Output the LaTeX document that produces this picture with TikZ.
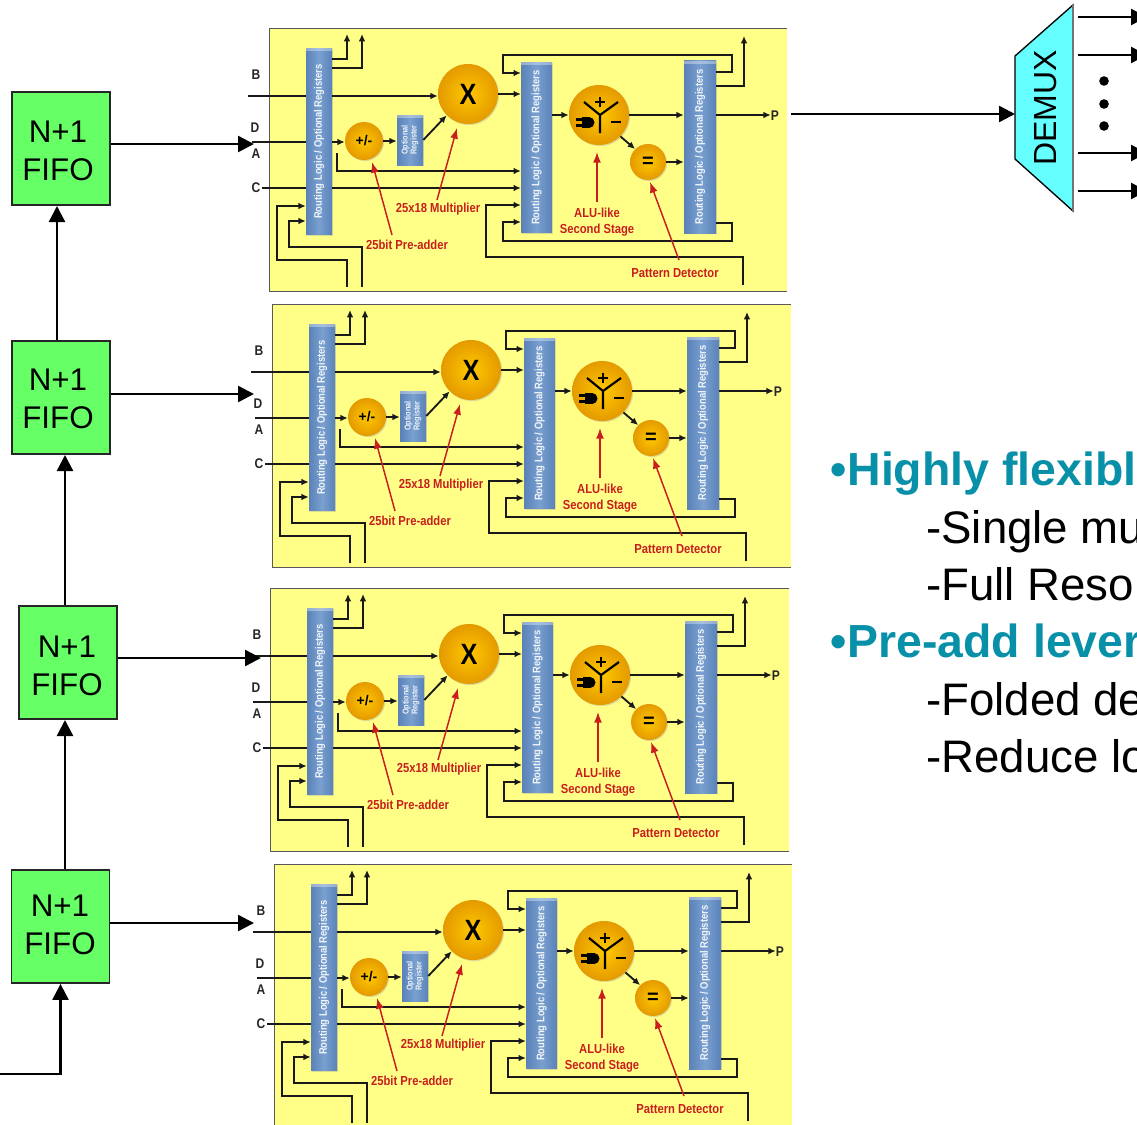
\documentclass[tikz,border=0pt]{standalone}
\usepackage{fontspec}
\setmainfont{Liberation Sans}
\newfontfamily\narrowfont[FakeStretch=0.86]{Liberation Sans}
\usetikzlibrary{arrows.meta,calc,shadows}
\definecolor{panelyellow}{HTML}{FFFF88}
\definecolor{fifogreen}{HTML}{66FF66}
\definecolor{demuxcyan}{HTML}{66FFFF}
\definecolor{tealtext}{HTML}{0890A8}
\definecolor{redlabel}{HTML}{C81E1E}
\definecolor{regblue}{HTML}{7AA0D0}
\definecolor{regdark}{HTML}{5A82B8}
\definecolor{ballin}{HTML}{FFC800}
\definecolor{ballout}{HTML}{E49A00}
\tikzset{
  panelbox/.style={fill=panelyellow,draw=none},
  panelrule/.style={draw=black!65,line width=0.7pt},
  wire/.style={draw=black!90,line width=1.4pt},
  arr/.style={wire,-{Latex[length=5.5pt,width=5pt]}},
  redarr/.style={draw=redlabel,line width=1.1pt,-{Latex[length=8pt,width=6pt]}},
  reg/.style={rectangle,inner sep=0pt,left color=regdark,right color=regdark,middle color=regblue,
     drop shadow={shadow xshift=0.8pt,shadow yshift=-0.8pt,fill=black!35,opacity=0.4},
     path picture={\fill[white,opacity=0.35] (path picture bounding box.north west) rectangle ([yshift=-2.2pt]path picture bounding box.north east);}},
  regtext/.style={rotate=90,text=white!88!regblue,font=\narrowfont\bfseries\fontsize{8.2}{8.5}\selectfont,inner sep=0pt,align=center},
  ball/.style={circle,inner sep=0pt,inner color=ballin,outer color=ballout,
     drop shadow={shadow xshift=0.8pt,shadow yshift=-0.8pt,fill=black!35,opacity=0.4}},
  sig/.style={font=\narrowfont\bfseries\fontsize{10.5}{11}\selectfont,text=black!85,inner sep=0pt},
  redtext/.style={font=\narrowfont\bfseries\fontsize{9.8}{12}\selectfont,text=redlabel,inner sep=0pt,align=center},
  fifo/.style={draw=black!85,line width=1.1pt,fill=fifogreen,minimum width=73.5pt,minimum height=85pt,inner sep=0pt},
  fifotext/.style={inner sep=0pt,align=center,font=\fontsize{23.5}{28.5}\selectfont},
  link/.style={draw=black,line width=1.8pt,-{Triangle[length=12pt,width=12pt]}},
  headline/.style={anchor=base west,inner sep=0pt,text=tealtext,font=\bfseries\fontsize{34.8}{36}\selectfont},
  subline/.style={anchor=base west,inner sep=0pt,text=black,font=\fontsize{34.2}{36}\selectfont},
  dotmark/.style={circle,fill=black,minimum size=7.2pt,inner sep=0pt},
}
\newcommand{\dsppanel}[4]{%
\begin{scope}[shift={(#2,#3)}]
  \fill[panelbox] (0,0) rectangle (#4,263);
  \draw[panelrule] (#4,0) -- (0,0) -- (0,263) -- (#4,263);
  % registers
  \node[reg,minimum width=19.5pt,minimum height=140pt] (#1lr) at (50,113.5) {};
  \node[regtext] at (#1lr) {Routing Logic / Optional Registers};
  \node[reg,minimum width=23pt,minimum height=128pt] (#1mr) at (267.5,119.5) {};
  \node[regtext] at (#1mr) {Routing Logic / Optional Registers};
  \node[reg,minimum width=24pt,minimum height=129pt] (#1rr) at (431,119) {};
  \node[regtext] at (#1rr) {Routing Logic / Optional Registers};
  \node[reg,minimum width=19.5pt,minimum height=37.5pt] (#1or) at (141,112) {};
  \node[regtext,font=\narrowfont\bfseries\fontsize{6.4}{6.8}\selectfont] at (#1or) {Optional\\Register};
  % balls
  \node[ball,minimum size=45pt,font=\narrowfont\bfseries\fontsize{22}{22}\selectfont] (#1mul) at (199,66) {X};
  \node[ball,minimum size=28.5pt,font=\bfseries\fontsize{10.5}{10.5}\selectfont] (#1pre) at (95,113) {+/-};
  \node[ball,minimum size=45pt] (#1alu) at (330,87) {};
  \node[ball,minimum size=27pt,font=\bfseries\fontsize{15}{15}\selectfont] (#1eq) at (379,134) {=};
  % ALU symbol
  \draw[line width=1.6pt,black] (331,87) -- (315,74) (331,87) -- (349,74) (331,87) -- (331,105);
  \draw[line width=1.4pt,black] (331,69) -- (331,79) (326,74) -- (336,74) (342,94) -- (352,94);
  \fill[black] (313,89) rectangle (321,100);
  \fill[black] (320,94.5) circle (5.5);
  \draw[line width=1.6pt,black] (307,91.5) -- (313,91.5) (307,97.5) -- (313,97.5);
  % signal labels
  \node[sig] (#1lb) at (-13,47) {B};
  \node[sig] (#1ld) at (-14,100) {D};
  \node[sig] (#1la) at (-13,126) {A};
  \node[sig] (#1lc) at (-13,160) {C};
  \node[sig] (#1lp) at (506,88) {P};
  % free ends
  \coordinate (#1b0) at (-21,68);
  \coordinate (#1d0) at (-17,114);
  \coordinate (#1c0) at (-7,160);
  % left-hand inputs
  \draw[wire] (#1b0) -- (#1lr.west |- #1b0);
  \draw[arr] (#1lr.east |- #1b0) -- (#1mul.west |- #1b0);
  \draw[wire] (#1d0) -- (#1lr.west |- #1d0);
  \draw[arr] (#1lr.east |- #1d0) -- (#1pre.west |- #1d0);
  \draw[arr] (#1pre.east) -- (#1or.west |- #1pre);
  \draw[arr] (#1or.east) -- (#1mul.south west);
  \draw[arr] (68,125) |- (#1mr.west |- 0,143);
  \draw[wire] (#1c0) -- (#1lr.west |- #1c0);
  \draw[arr] (#1lr.east |- #1c0) -- (#1mr.west |- #1c0);
  % registers' up outputs
  \draw[arr] (#1lr.east |- 0,31) -| (78,6);
  \draw[arr] (#1lr.east |- 0,40) -| (93,6);
  % bottom feedback to left register
  \draw[arr] (78,259) |- (8,232) |- (#1lr.west |- 0,178);
  \draw[arr] (93,259) |- (20,219) |- (#1lr.west |- 0,193);
  % to mid register
  \draw[arr] (#1mul.east) -- (#1mr.west |- #1mul);
  \draw[arr] (#1rr.east |- 0,44) -| (463,27) -- (234,27) |- (#1mr.west |- 0,45);
  \draw[arr] (474,257) |- (217,229) |- (#1mr.west |- 0,177);
  \draw[arr] (#1rr.east |- 0,195) -| (463,213) -- (234,213) |- (#1mr.west |- 0,194);
  % right part
  \draw[arr] (#1mr.east |- #1alu) -- (#1alu.west);
  \draw[arr] (#1alu.east) -- (#1rr.west |- #1alu);
  \draw[arr] (#1alu.south east) -- (#1eq.north west);
  \draw[arr] (#1eq.east) -- (#1rr.west |- #1eq);
  \draw[arr] (#1rr.east |- 0,58) -| (475,8);
  \draw[arr] (#1rr.east |- #1alu) -- (#1lp.west |- #1alu);
  % red labels
  \node[redtext] (#1tm) at (169,181) {25x18 Multiplier};
  \node[redtext] (#1tp) at (138,217) {25bit Pre-adder};
  \node[redtext] (#1ta) at (328,194) {ALU-like\\Second Stage};
  \node[redtext] (#1tr) at (406,245) {Pattern Detector};
  \coordinate (#1ma) at (168,172);
  \coordinate (#1pa) at (123,207);
  \coordinate (#1ra) at (410,232);
  \draw[redarr] (#1ma) -- (188,100);
  \draw[redarr] (#1pa) -- (103,134);
  \draw[redarr] (328,174) -- (328,124);
  \draw[redarr] (#1ra) -- (381,154);
\end{scope}}
\begin{document}
\begin{tikzpicture}[x=0.75pt,y=-0.75pt]
\useasboundingbox (0,0) rectangle (1137,1124);
\begin{scope}
\clip (0,0) rectangle (1137,1124);
\dsppanel{a}{269}{28}{518}
\dsppanel{b}{272}{304}{519}
\dsppanel{c}{270}{588}{519}
\dsppanel{d}{274}{864}{518}

% FIFOs
\node[fifo] (f1) at (61,148.5) {};
\node[fifo] (f2) at (61,397.5) {};
\node[fifo] (f3) at (68,662.5) {};
\node[fifo] (f4) at (60.5,926.5) {};
\node[fifotext] (ft1) at (58,151) {N+1\\FIFO};
\node[fifotext] (ft2) at (58,398.5) {N+1\\FIFO};
\node[fifotext] (ft3) at (67,666) {N+1\\FIFO};
\node[fifotext] (ft4) at (60,925) {N+1\\FIFO};
\coordinate (e1) at (254,144);
\coordinate (e2) at (254,394);
\coordinate (e3) at (261,658);
\coordinate (e4) at (254,923);
\coordinate (src) at (0,1074);
\draw[link] (f1.east |- e1) -- (e1);
\draw[link] (f2.east |- e2) -- (e2);
\draw[link] (f3.east |- e3) -- (e3);
\draw[link] (f4.east |- e4) -- (e4);
\draw[link] (57,340) -- (57,206);
\draw[link] (65,605) -- (65,455);
\draw[link] (65,869) -- (65,720);
\draw[link] (src) -| (f4.south);

% DEMUX
\coordinate (dma) at (1015,56);
\coordinate (dmb) at (1073,5);
\coordinate (dmc) at (1073,211);
\coordinate (dmd) at (1015,159);
\filldraw[fill=demuxcyan,draw=black,line width=1pt] (dma) -- (dmb) -- (dmc) -- (dmd) -- cycle;
\draw[draw=black!55,line width=1pt] (dmb) -- (dmc);
\node[rotate=90,inner sep=0pt,font=\fontsize{24}{24}\selectfont] (dm) at (1046,108) {DEMUX};
\coordinate (panelout) at (791,114);
\draw[link] (panelout) -- (dma |- panelout);
\foreach \yy/\nn in {17/o1,55/o2,153/o3,191/o4}{
  \coordinate (\nn) at (1147,\yy);
  \draw[link] (1078,\yy) -- (\nn);
}
\node[dotmark] (k1) at (1104,81) {};
\node[dotmark] (k2) at (1104,104) {};
\node[dotmark] (k3) at (1104,126) {};

% text
\node[headline] (t1) at (830,485) {•\kern0.8pt Highly flexibl};
\node[subline] (t2) at (926,543) {-Single mu};
\node[subline] (t3) at (926,600) {-Full Reso};
\node[headline] (t4) at (830,657) {•\kern0.8pt Pre-add lever};
\node[subline] (t5) at (926,715) {-Folded de};
\node[subline] (t6) at (926,772) {-Reduce lo};
\end{scope}
\end{tikzpicture}
\end{document}
